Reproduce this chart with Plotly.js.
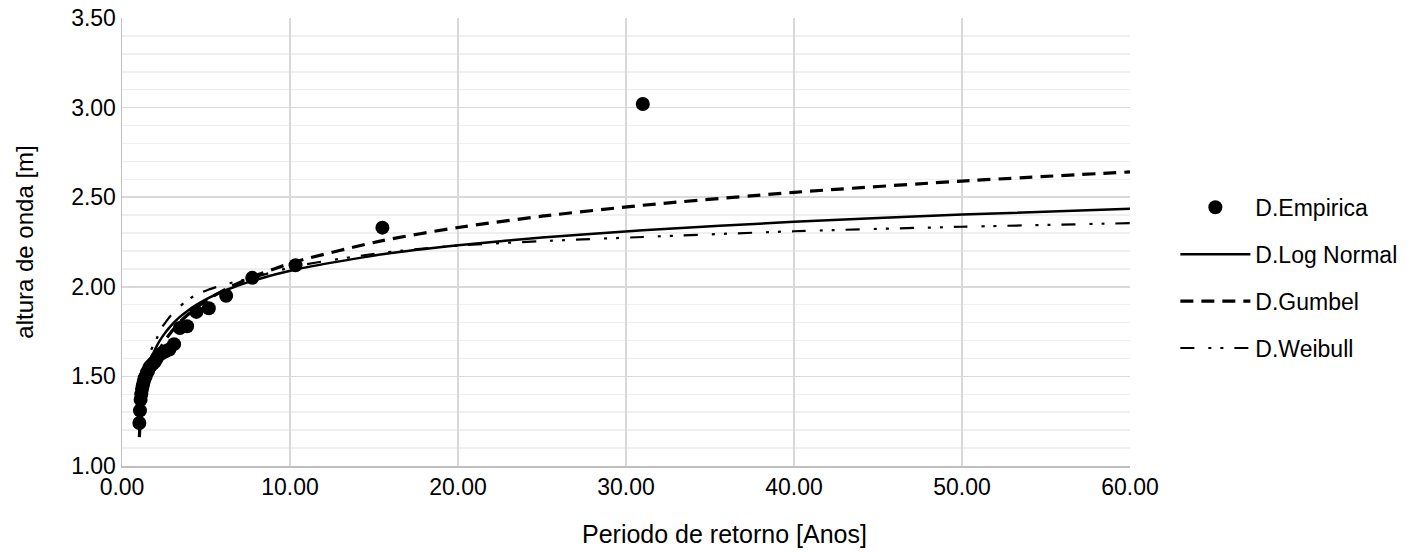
<!DOCTYPE html>
<html><head><meta charset="utf-8">
<script src="https://cdn.plot.ly/plotly-3.0.1.min.js"></script>
<style>html,body{margin:0;padding:0;background:#fff;}#chart{width:1414px;height:552px;}</style>
</head><body><div id="chart"></div>
<script>
// Empirical points: return period [years] and wave height [m]
const empT = [31, 15.5, 10.33, 7.75, 6.2, 5.167, 4.429, 3.875, 3.444, 3.1, 2.818, 2.583, 2.385, 2.214, 2.067, 1.938, 1.824, 1.722, 1.632, 1.55, 1.476, 1.409, 1.348, 1.292, 1.24, 1.192, 1.148, 1.107, 1.069, 1.033];
const empH = [3.02, 2.33, 2.12, 2.05, 1.95, 1.88, 1.86, 1.78, 1.77, 1.68, 1.65, 1.64, 1.63, 1.62, 1.60, 1.58, 1.57, 1.56, 1.55, 1.53, 1.52, 1.50, 1.49, 1.47, 1.45, 1.43, 1.40, 1.37, 1.31, 1.24];

// Fitted curves, evaluated at these return periods
const curveT = [1.033, 1.069, 1.107, 1.148, 1.192, 1.24, 1.292, 1.348, 1.409, 1.476, 1.55, 1.632, 1.722, 1.824, 1.938, 2.067, 2.214, 2.385, 2.583, 2.818, 3.1, 3.444, 3.875, 4.429, 5.167, 6.2, 7.75, 10.33, 15.5, 20, 25, 31, 40, 50, 60];
const logNormal = [1.185, 1.259, 1.310, 1.350, 1.385, 1.417, 1.446, 1.473, 1.499, 1.524, 1.549, 1.573, 1.597, 1.621, 1.645, 1.669, 1.694, 1.719, 1.745, 1.772, 1.801, 1.832, 1.864, 1.899, 1.938, 1.982, 2.033, 2.097, 2.181, 2.232, 2.275, 2.315, 2.363, 2.403, 2.435];
const gumbel = [1.161, 1.225, 1.269, 1.306, 1.338, 1.367, 1.395, 1.420, 1.446, 1.471, 1.495, 1.519, 1.544, 1.569, 1.594, 1.620, 1.647, 1.675, 1.704, 1.734, 1.767, 1.803, 1.841, 1.884, 1.932, 1.988, 2.055, 2.140, 2.258, 2.331, 2.394, 2.455, 2.527, 2.590, 2.641];
const weibull = [1.20, 1.30, 1.36, 1.41, 1.45, 1.48, 1.51, 1.54, 1.56, 1.585, 1.605, 1.625, 1.645, 1.665, 1.68, 1.71, 1.745, 1.775, 1.80, 1.83, 1.86, 1.89, 1.925, 1.955, 1.985, 2.015, 2.05, 2.115, 2.19, 2.23, 2.255, 2.278, 2.31, 2.335, 2.355];

const seriesNames = ['D.Empirica', 'D.Log Normal', 'D.Gumbel', 'D.Weibull'];
const xTitle = 'Periodo de retorno [Anos]';
const yTitle = 'altura de onda [m]';

const FONT = 'Liberation Sans, Arial, sans-serif';
const FS = 23;
const traces = [
  {x: curveT, y: logNormal, name: seriesNames[1], mode: 'lines', legendgroup: 'b', legendrank: 2,
   line: {color: '#000', width: 2.5, shape: 'spline', smoothing: 0.6}},
  {x: curveT, y: gumbel, name: seriesNames[2], mode: 'lines', legendgroup: 'c', legendrank: 3,
   line: {color: '#000', width: 3.2, dash: '13px,8px', shape: 'spline', smoothing: 0.6}},
  {x: curveT, y: weibull, name: seriesNames[3], mode: 'lines', legendgroup: 'd', legendrank: 4,
   line: {color: '#000', width: 2.2, dash: '14px,14px,3px,9px,3px,11px', shape: 'spline', smoothing: 0.6}},
  {x: empT, y: empH, name: seriesNames[0], mode: 'markers', legendgroup: 'a', legendrank: 1,
   marker: {color: '#000', size: 14, symbol: 'circle'}}
];

const layout = {
  width: 1414, height: 552,
  margin: {l: 122, r: 284, t: 18, b: 86},
  paper_bgcolor: '#fff', plot_bgcolor: '#fff',
  font: {family: FONT, size: FS, color: '#000'},
  showlegend: true,
  legend: {x: 1.045, xanchor: 'left', y: 0.42, yanchor: 'middle', traceorder: 'grouped',
           tracegroupgap: 14, itemwidth: 70, font: {family: FONT, size: FS, color: '#000'},
           bgcolor: 'rgba(0,0,0,0)'},
  xaxis: {range: [0, 60], dtick: 10, tick0: 0, tickformat: '.2f', showgrid: true, gridcolor: '#d9d9d9', gridwidth: 1.5,
          zeroline: false, showline: true, linecolor: '#bfbfbf', linewidth: 1.5, ticks: '',
          tickfont: {family: FONT, size: FS, color: '#000'}},
  yaxis: {range: [1, 3.5], dtick: 0.5, tick0: 1, tickformat: '.2f', showgrid: true, gridcolor: '#d9d9d9', gridwidth: 1.5,
          minor: {dtick: 0.1, showgrid: true, gridcolor: '#efefef', gridwidth: 1.5},
          zeroline: false, showline: true, linecolor: '#bfbfbf', linewidth: 1.5, ticks: '',
          tickfont: {family: FONT, size: FS, color: '#000'},
          title: {text: yTitle, font: {family: FONT, size: 24, color: '#000'}, standoff: 30}},
  annotations: [
    {text: xTitle, xref: 'paper', yref: 'paper', x: 0.598, y: -0.152, xanchor: 'center', yanchor: 'middle',
     showarrow: false, font: {family: FONT, size: 25, color: '#000'}}
  ]
};

Plotly.newPlot('chart', traces, layout, {displayModeBar: false, staticPlot: true});
</script>
</body></html>
